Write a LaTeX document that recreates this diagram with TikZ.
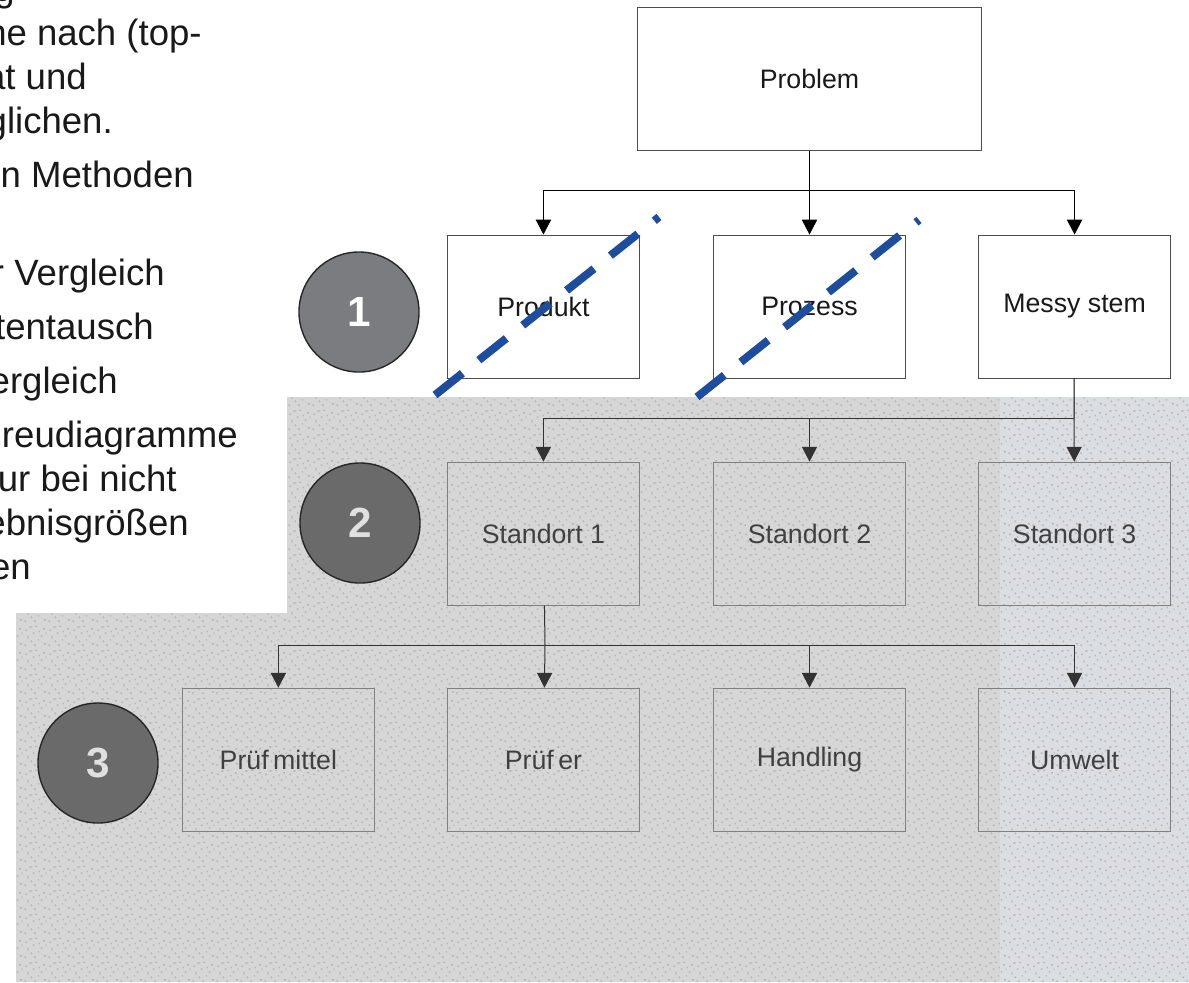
\documentclass[tikz,border=0pt]{standalone}
\usepackage{fontspec}
\setmainfont{Liberation Sans}
\usepackage{xcolor}
\usepackage{tikz}
\usetikzlibrary{patterns}
\usetikzlibrary{shapes,arrows.meta,positioning}

\definecolor{cutblue}{RGB}{31,77,158}
\definecolor{discgray}{RGB}{123,124,128}
\definecolor{discdark}{RGB}{106,106,106}
\definecolor{grain}{RGB}{214,214,214}
\definecolor{graintint}{RGB}{218,222,227}

% noise for the grey field
\pgfdeclarepatternformonly{specks}{\pgfpointorigin}{\pgfpoint{0.6cm}{0.6cm}}{\pgfpoint{0.6cm}{0.6cm}}{%
  \pgfpathrectangle{\pgfpoint{0.03cm}{0.41cm}}{\pgfpoint{0.05cm}{0.04cm}}
  \pgfpathrectangle{\pgfpoint{0.17cm}{0.12cm}}{\pgfpoint{0.04cm}{0.05cm}}
  \pgfpathrectangle{\pgfpoint{0.29cm}{0.52cm}}{\pgfpoint{0.06cm}{0.03cm}}
  \pgfpathrectangle{\pgfpoint{0.44cm}{0.27cm}}{\pgfpoint{0.04cm}{0.04cm}}
  \pgfpathrectangle{\pgfpoint{0.52cm}{0.06cm}}{\pgfpoint{0.05cm}{0.05cm}}
  \pgfpathrectangle{\pgfpoint{0.09cm}{0.22cm}}{\pgfpoint{0.03cm}{0.06cm}}
  \pgfpathrectangle{\pgfpoint{0.35cm}{0.17cm}}{\pgfpoint{0.05cm}{0.03cm}}
  \pgfpathrectangle{\pgfpoint{0.23cm}{0.34cm}}{\pgfpoint{0.04cm}{0.04cm}}
  \pgfpathrectangle{\pgfpoint{0.49cm}{0.45cm}}{\pgfpoint{0.05cm}{0.04cm}}
  \pgfpathrectangle{\pgfpoint{0.01cm}{0.02cm}}{\pgfpoint{0.04cm}{0.05cm}}
  \pgfpathrectangle{\pgfpoint{0.38cm}{0.38cm}}{\pgfpoint{0.03cm}{0.04cm}}
  \pgfpathrectangle{\pgfpoint{0.14cm}{0.50cm}}{\pgfpoint{0.05cm}{0.04cm}}
  \pgfpathrectangle{\pgfpoint{0.56cm}{0.33cm}}{\pgfpoint{0.03cm}{0.05cm}}
  \pgfpathrectangle{\pgfpoint{0.26cm}{0.03cm}}{\pgfpoint{0.04cm}{0.04cm}}
  \pgfusepath{fill}}

\begin{document}
\begin{tikzpicture}[x=0.025cm, y=-0.025cm,
          box/.style={draw=black!70, line width=0.025cm, minimum width=4.8cm, minimum height=3.575cm,
              inner sep=0, text=black!90, font=\fontsize{19}{22}\selectfont},
          sbox/.style={box, draw=black!50, text=black!75},
          disc/.style={circle, draw=black!85, line width=0.035cm, minimum size=3cm, inner sep=0,
              font=\fontsize{30}{30}\selectfont\bfseries},
          line/.style={text=black!90, inner sep=0, anchor=base east, font=\fontsize{26}{30}\selectfont},
          to/.style={-{Triangle[width=0.38cm,length=0.37cm]}, line width=0.025cm},
          cut/.style={cutblue, line width=0.2cm, dash pattern=on 0.875cm off 0.525cm},
		]
            \useasboundingbox (0,0) rectangle (1189,982);

            % grey field
            \fill[grain] (16,613) -- (287,613) -- (287,397) -- (1189,397) -- (1189,982) -- (16,982) -- cycle;
            \fill[graintint] (1000,397) rectangle (1189,982);
            \fill[pattern=specks, pattern color=black!28] (16,613) -- (287,613) -- (287,397) -- (1189,397)
                -- (1189,982) -- (16,982) -- cycle;

            % slide text, cut at the left
            \begin{scope}
              \clip (0,0) rectangle (287,613);
              \node[line] (l0) at (15,1) {g};
              \node[line] (l1) at (202,45) {he nach (top-};
              \node[line] (l2) at (87,89) {at und};
              \node[line] (l3) at (113,133) {glichen.};
              \node[line] (l4) at (194,187) {n Methoden};
              \node[line] (l5) at (165,285) {r Vergleich};
              \node[line] (l6) at (154,339) {tentausch};
              \node[line] (l7) at (118,393) {ergleich};
              \node[line] (l8) at (238,447) {reudiagramme};
              \node[line] (l9) at (177,491) {ur bei nicht};
              \node[line] (l10) at (189,535) {ebnisgrößen};
              \node[line] (l11) at (31,579) {en};
            \end{scope}

            % levels
            \draw node[disc, fill=discgray, text=white] (eins) at (359,312) {1};
            \draw node[disc, fill=discdark, text=black!12] (zwei) at (360,523) {2};
            \draw node[disc, fill=discdark, text=black!12] (drei) at (98,763) {3};

			\draw node[box, fill=white, minimum width=8.575cm, minimum height=3.55cm] (problem) at (809.5,79) {Problem};
			\draw node[box, fill=white, below=2.1cm of problem] (prozess) {Prozess};
			\draw node[box, fill=white, left=1.825cm of prozess] (produkt) {Produkt};
			\draw node[box, fill=white, right=1.8cm of prozess] (messy) {Messy stem};

			\draw node[sbox, below=2.075cm of prozess] (standortzwei) {Standort 2};
			\draw node[sbox, left=1.825cm of standortzwei] (standorteins) {Standort 1};
			\draw node[sbox, right=1.8cm of standortzwei] (standortdrei) {Standort 3};

			\draw node[sbox, below=2.05cm of standortzwei] (handling) {Handling};
			\draw node[sbox, left=1.825cm of handling] (pruefer) {Prüf\,er};
			\draw node[sbox, left=1.8cm of pruefer] (pruefmittel) {Prüf\,mittel};
			\draw node[sbox, right=1.8cm of handling] (umwelt) {Umwelt};

            \coordinate (bus1) at (809.5,190);
            \coordinate (bus2) at (1074,418);
            \coordinate (bus3) at (545,645);

            \draw[line width=0.025cm] (problem) -- (bus1);
            \draw[to] (bus1) -| (produkt);
            \draw[to] (bus1) -- (prozess);
            \draw[to] (bus1) -| (messy);

            \draw[line width=0.025cm] (messy) -- (bus2);
            \draw[to, black!80] (bus2) -| (standorteins);
            \draw[to, black!80] (bus2) -| (standortzwei);
            \draw[to, black!80] (bus2) -- (standortdrei);

            \draw[line width=0.025cm, black!80] (standorteins) -- (bus3);
            \draw[to, black!80] (bus3) -| (pruefmittel);
            \draw[to, black!80] (bus3) -- (pruefer);
            \draw[to, black!80] (bus3) -| (handling);
            \draw[to, black!80] (bus3) -| (umwelt);

            % crossed out
            \draw[cut] (435,395) -- (659,217);
            \draw[cut] (697,397) -- (919,220);

		 \end{tikzpicture}
\end{document}
